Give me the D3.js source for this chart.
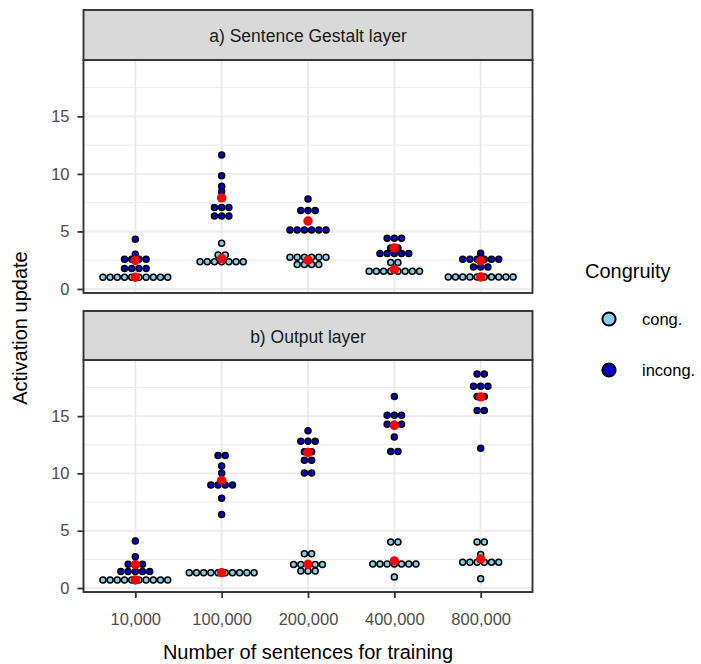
<!DOCTYPE html>
<html>
<head>
<meta charset="utf-8">
<script src="https://cdn.jsdelivr.net/npm/d3@7"></script>
<style>
  html, body { margin: 0; padding: 0; background: #fff; }
  svg { display: block; font-family: "Liberation Sans", Arial, Helvetica, sans-serif; }
</style>
</head>
<body>
<svg id="chart" width="701" height="664"></svg>
<script>
// Training-set sizes (x categories) and facet titles
const categories = ["10,000", "100,000", "200,000", "400,000", "800,000"];
const layers = ["a) Sentence Gestalt layer", "b) Output layer"];
const congruity = ["cong.", "incong."];
const yTicks = [0, 5, 10, 15];
const yMinor = [2.5, 7.5, 12.5, 17.5];

// Activation updates per model (10 models per cell), one sub-array per category
const gestaltCong = [
  [1.02, 1.02, 1.02, 1.02, 1.02, 1.02, 1.02, 1.02, 1.02, 1.02],
  [2.37, 2.37, 2.37, 2.37, 2.37, 2.37, 2.37, 2.96, 2.96, 3.97],
  [2.12, 2.12, 2.12, 2.12, 2.76, 2.76, 2.76, 2.76, 2.76, 2.76],
  [1.55, 1.55, 1.55, 1.55, 1.55, 1.55, 1.55, 1.55, 2.30, 2.30],
  [1.04, 1.04, 1.04, 1.04, 1.04, 1.04, 1.04, 1.04, 1.04, 1.04]
];
const gestaltIncong = [
  [1.77, 1.77, 1.77, 1.77, 2.58, 2.58, 2.58, 2.58, 3.02, 4.32],
  [6.35, 6.35, 6.35, 7.07, 7.07, 7.07, 8.46, 8.93, 9.83, 11.65],
  [5.13, 5.13, 5.13, 5.13, 5.13, 5.13, 6.81, 6.81, 6.81, 7.83],
  [3.08, 3.08, 3.08, 3.08, 3.08, 3.57, 3.57, 4.40, 4.40, 4.40],
  [1.91, 1.91, 1.91, 2.58, 2.58, 2.58, 2.58, 2.58, 2.58, 3.10]
];
const outputCong = [
  [0.70, 0.70, 0.70, 0.70, 0.70, 0.70, 0.70, 0.70, 0.70, 0.70],
  [1.34, 1.34, 1.34, 1.34, 1.34, 1.34, 1.34, 1.34, 1.34, 1.34],
  [1.48, 1.48, 1.48, 2.06, 2.06, 2.06, 2.06, 2.06, 2.98, 2.98],
  [0.95, 2.10, 2.10, 2.10, 2.10, 2.10, 2.10, 2.10, 4.02, 4.02],
  [0.81, 2.25, 2.25, 2.25, 2.25, 2.25, 2.25, 2.92, 4.02, 4.02]
];
const outputIncong = [
  [1.45, 1.45, 1.45, 1.45, 1.45, 2.08, 2.08, 2.08, 2.73, 4.11],
  [6.42, 7.83, 9.00, 9.00, 9.00, 9.00, 10.04, 10.64, 11.56, 11.56],
  [10.04, 10.04, 11.16, 11.16, 11.90, 11.90, 12.80, 12.80, 12.80, 13.72],
  [11.91, 11.91, 13.18, 14.29, 14.29, 14.29, 15.07, 15.07, 15.07, 16.72],
  [12.20, 15.50, 15.50, 16.72, 16.72, 17.60, 17.60, 17.60, 18.67, 18.67]
];

const panelValues = [
  { cong: gestaltCong, incong: gestaltIncong },
  { cong: outputCong, incong: outputIncong }
];
const fills = { "cong.": "#87CEEB", "incong.": "#0000CD" };

const svg = d3.select("#chart");

// Shared geometry
const left = 83.5, right = 532.5;
const panels = [
  { stripTop: 10, top: 60, bottom: 293 },
  { stripTop: 311, top: 360, bottom: 592 }
];
const yDomain = [-0.35, 19.9];
const dotR = 3.0, dotStep = 7.2;

const x = d3.scalePoint().domain(categories).range([left, right]).padding(0.6);

panels.forEach((p, pi) => {
  const y = d3.scaleLinear().domain(yDomain).range([p.bottom, p.top]);
  const g = svg.append("g");

  // Panel background and grid
  g.append("rect").attr("x", left).attr("y", p.top)
    .attr("width", right - left).attr("height", p.bottom - p.top).attr("fill", "#fff");
  g.selectAll(".minor").data(yMinor).join("line")
    .attr("x1", left).attr("x2", right)
    .attr("y1", d => y(d)).attr("y2", d => y(d))
    .attr("stroke", "#EBEBEB").attr("stroke-width", 1.0);
  g.selectAll(".majorY").data(yTicks).join("line")
    .attr("x1", left).attr("x2", right)
    .attr("y1", d => y(d)).attr("y2", d => y(d))
    .attr("stroke", "#EBEBEB").attr("stroke-width", 1.9);
  g.selectAll(".majorX").data(categories).join("line")
    .attr("x1", d => x(d)).attr("x2", d => x(d))
    .attr("y1", p.top).attr("y2", p.bottom)
    .attr("stroke", "#EBEBEB").attr("stroke-width", 1.9);

  // Centered dot stacks: equal values share a row
  const vals = panelValues[pi];
  congruity.forEach(c => {
    const key = c === "cong." ? "cong" : "incong";
    categories.forEach((cat, ci) => {
      const rows = d3.groups(vals[key][ci], v => v);
      const pts = [];
      rows.forEach(([v, arr]) => {
        arr.forEach((_, i) => pts.push({ v, off: (i - (arr.length - 1) / 2) * dotStep }));
      });
      g.selectAll(null).data(pts).join("circle")
        .attr("cx", d => x(cat) + d.off)
        .attr("cy", d => y(d.v))
        .attr("r", dotR)
        .attr("fill", fills[c])
        .attr("stroke", "#000").attr("stroke-width", 1.5);
    });
  });

  // Group means
  congruity.forEach(c => {
    const key = c === "cong." ? "cong" : "incong";
    g.selectAll(null).data(categories).join("circle")
      .attr("cx", d => x(d))
      .attr("cy", (d, ci) => y(d3.mean(vals[key][ci])))
      .attr("r", 4.7)
      .attr("fill", "#FF0000");
  });

  // Panel border
  g.append("rect").attr("x", left).attr("y", p.top)
    .attr("width", right - left).attr("height", p.bottom - p.top)
    .attr("fill", "none").attr("stroke", "#333333").attr("stroke-width", 1.9);

  // Strip
  g.append("rect").attr("x", left).attr("y", p.stripTop)
    .attr("width", right - left).attr("height", p.top - p.stripTop)
    .attr("fill", "#D9D9D9").attr("stroke", "#333333").attr("stroke-width", 1.9);
  g.append("text")
    .attr("x", (left + right) / 2).attr("y", (p.stripTop + p.top) / 2 + 1)
    .attr("text-anchor", "middle").attr("dominant-baseline", "central")
    .attr("font-size", 17.5).attr("fill", "#1A1A1A")
    .text(layers[pi]);

  // Y axis
  const yAxis = d3.axisLeft(y).tickValues(yTicks).tickSize(6).tickPadding(8);
  const ya = g.append("g").attr("transform", `translate(${left},0)`).call(yAxis);
  ya.select(".domain").remove();
  ya.selectAll(".tick line").attr("stroke", "#333333").attr("stroke-width", 1.8);
  ya.selectAll(".tick text").attr("font-size", 16.5).attr("fill", "#4D4D4D")
    .attr("font-family", "Liberation Sans, Arial, sans-serif");

  // X axis on lower panel only
  if (pi === 1) {
    const xAxis = d3.axisBottom(x).tickSize(6).tickPadding(15);
    const xa = g.append("g").attr("transform", `translate(0,${p.bottom})`).call(xAxis);
    xa.select(".domain").remove();
    xa.selectAll(".tick line").attr("stroke", "#333333").attr("stroke-width", 1.8);
    xa.selectAll(".tick text").attr("font-size", 16.5).attr("fill", "#4D4D4D")
      .attr("font-family", "Liberation Sans, Arial, sans-serif");
  }
});

// Axis titles
svg.append("text")
  .attr("x", (left + right) / 2).attr("y", 659)
  .attr("text-anchor", "middle").attr("font-size", 20).attr("fill", "#000")
  .text("Number of sentences for training");
svg.append("text")
  .attr("transform", "translate(27,328) rotate(-90)")
  .attr("text-anchor", "middle").attr("font-size", 20).attr("fill", "#000")
  .text("Activation update");

// Legend
const legend = svg.append("g");
legend.append("text").attr("x", 585).attr("y", 278)
  .attr("font-size", 20).attr("fill", "#000").text("Congruity");
const keyY = d3.scalePoint().domain(congruity).range([319, 370]);
legend.selectAll("circle").data(congruity).join("circle")
  .attr("cx", 609).attr("cy", d => keyY(d)).attr("r", 6.6)
  .attr("fill", d => fills[d]).attr("stroke", "#000").attr("stroke-width", 2);
legend.selectAll(".lab").data(congruity).join("text")
  .attr("x", 642).attr("y", d => keyY(d))
  .attr("dominant-baseline", "central")
  .attr("font-size", 16.5).attr("fill", "#000").text(d => d);
</script>
</body>
</html>
